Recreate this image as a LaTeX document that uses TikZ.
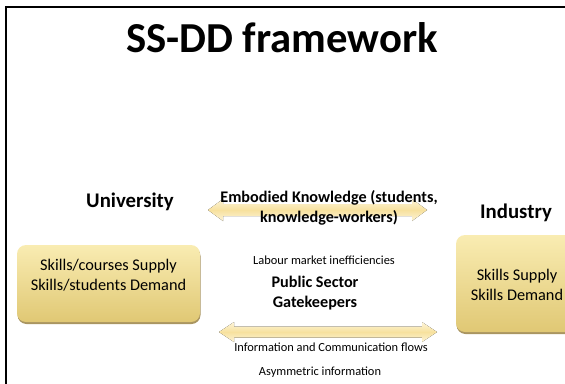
\documentclass[tikz,border=0pt]{standalone}
\usepackage{fontspec}
\setmainfont{Carlito}
\usetikzlibrary{shadows,calc}
\definecolor{goldtop}{RGB}{249,236,178}
\definecolor{goldbot}{RGB}{224,200,116}
\definecolor{goldedge}{RGB}{160,138,80}
\definecolor{arrowmid}{RGB}{247,225,158}
\definecolor{arrowlight}{RGB}{253,244,216}
\tikzset{
  goldbox/.style={rounded corners=9pt, top color=goldtop, bottom color=goldbot, draw=none,
    drop shadow={shadow xshift=0.5pt, shadow yshift=-2pt, fill=goldedge, opacity=0.9}},
  flowarrow/.style={top color=arrowlight, bottom color=arrowlight, middle color=arrowmid, draw=none},
  boxtext/.style={align=center, font=\fontsize{16.3}{19.5}\selectfont, inner sep=0pt},
  headtext/.style={font=\bfseries\fontsize{20.8}{24}\selectfont, inner sep=0pt},
  midtext/.style={align=center, font=\bfseries\fontsize{16.2}{20}\selectfont, inner sep=0pt},
  smalltext/.style={font=\fontsize{12.4}{14}\selectfont, inner sep=0pt}
}
\begin{document}
\begin{tikzpicture}[x=1pt,y=-1pt]
\useasboundingbox (0,0) rectangle (565,383);
\clip (0,0) rectangle (565,383);
\draw[line width=2.5pt] (6,7) rectangle (640,440);
\node[font=\bfseries\fontsize{42.7}{50}\selectfont, inner sep=0pt] (title) at (282,38) {SS-DD framework};
% boxes
\node[goldbox, minimum width=183pt, minimum height=77pt] (unibox) at (108.5,283.5) {};
\node[boxtext] (unitext) at (108.5,275) {Skills/courses Supply\\Skills/students Demand};
\node[goldbox, minimum width=122pt, minimum height=97pt] (indbox) at (517,283.5) {};
\node[boxtext] (indtext) at (517,285) {Skills Supply\\Skills Demand};
% headings
\node[headtext] (uni) at (130,202) {University};
\node[headtext] (ind) at (516,213) {Industry};
% arrows
\coordinate (ekL) at (208,210);
\coordinate (ekR) at (427,210);
\fill[flowarrow] (ekL) -- ++(15,-11) -- ++(0,5) -- ($(ekR)+(-15,-6)$) -- ++(0,-5) -- (ekR)
  -- ++(-15,11) -- ++(0,-5) -- ($(ekL)+(15,6)$) -- ++(0,5) -- cycle;
\coordinate (icL) at (219,332);
\coordinate (icR) at (437,332);
\fill[flowarrow] (icL) -- ++(15,-10) -- ++(0,4.5) -- ($(icR)+(-15,-5.5)$) -- ++(0,-4.5) -- (icR)
  -- ++(-15,10) -- ++(0,-4.5) -- ($(icL)+(15,5.5)$) -- ++(0,4.5) -- cycle;
% labels
\node[midtext] (ek) at (329,207.5) {Embodied Knowledge (students,\\knowledge-workers)};
\node[smalltext] (lab) at (324,260) {Labour market inefficiencies};
\node[midtext, align=center] (pub) at (315,293.5) {Public Sector\\Gatekeepers};
\node[smalltext] (icf) at (331,347) {Information and Communication flows};
\node[smalltext] (asy) at (320,372) {Asymmetric information};
\end{tikzpicture}
\end{document}
